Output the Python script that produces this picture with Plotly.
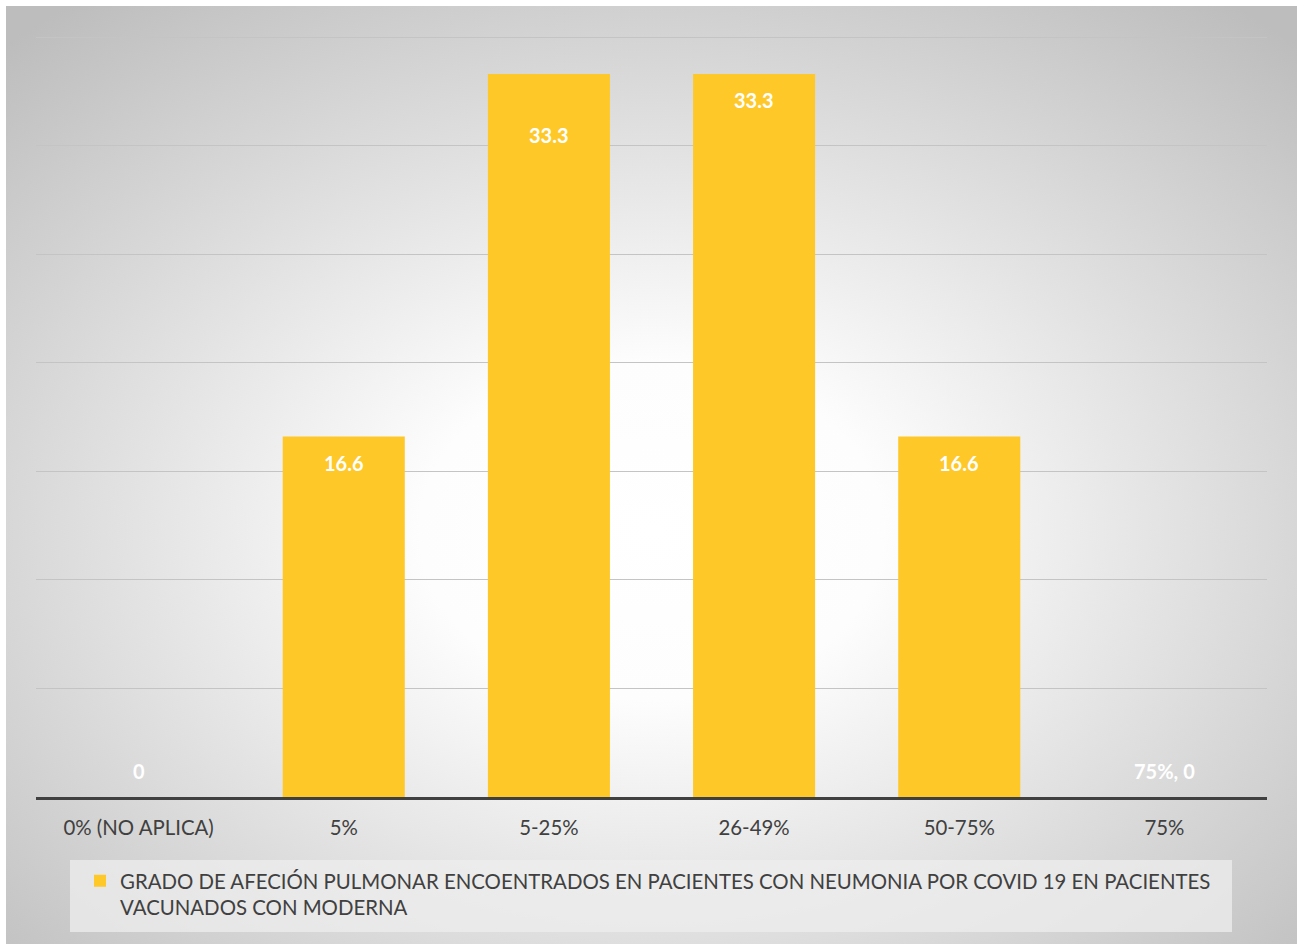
import base64
import plotly.graph_objects as go

categories = ["0% (NO APLICA)", "5%", "5-25%", "26-49%", "50-75%", "75%"]
values = [0, 16.6, 33.3, 33.3, 16.6, 0]
labels = ["0", "16.6", "33.3", "33.3", "16.6", "75%, 0"]
series_name = ("GRADO DE AFECIÓN PULMONAR ENCOENTRADOS EN PACIENTES CON NEUMONIA POR COVID 19 EN PACIENTES"
               "<br>VACUNADOS CON MODERNA")
y_ticks = [0, 5, 10, 15, 20, 25, 30, 35]

W, H = 1303, 944
L, R, T, B = 36, 36, 36, 147
pw, ph = W - L - R, H - T - B

def px_x(px):
    return (px - L) / pw

def px_y(py):
    return (H - B - py) / ph

FONT = "Lato"
TEXT_COLOR = "#404040"
BAR_COLOR = "#FFC829"

svg = """<svg xmlns='http://www.w3.org/2000/svg' width='1291' height='938' viewBox='0 0 1291 938' preserveAspectRatio='none'>
<defs><radialGradient id='g' cx='0.5' cy='0.56' r='0.72' fx='0.5' fy='0.56'>
<stop offset='0' stop-color='#ffffff'/><stop offset='0.25' stop-color='#fdfdfd'/>
<stop offset='1' stop-color='#bdbdbd'/></radialGradient></defs>
<rect x='0' y='0' width='1291' height='938' fill='url(#g)'/></svg>"""
src = "data:image/svg+xml;base64," + base64.b64encode(svg.encode()).decode()

fig = go.Figure()
fig.add_trace(go.Bar(
    x=categories, y=values, name=series_name,
    marker=dict(color=BAR_COLOR, line=dict(width=0)),
    showlegend=True,
))

annotations = []
for i, (c, v, lab) in enumerate(zip(categories, values, labels)):
    if v == 0:
        shift = 26
    else:
        shift = -61 if i == 2 else -26
    annotations.append(dict(
        x=c, y=v, xref="x", yref="y", text="<b>%s</b>" % lab, showarrow=False,
        yshift=shift, yanchor="middle",
        font=dict(family=FONT, size=20, color="white"),
    ))

fig.update_layout(
    width=W, height=H,
    margin=dict(l=L, r=R, t=T, b=B),
    paper_bgcolor="white",
    plot_bgcolor="rgba(0,0,0,0)",
    font=dict(family=FONT, size=20, color=TEXT_COLOR),
    bargap=0.405,
    annotations=annotations,
    images=[dict(
        source=src, xref="paper", yref="paper",
        x=px_x(6), y=px_y(6), sizex=px_x(1297) - px_x(6), sizey=px_y(6) - px_y(944),
        xanchor="left", yanchor="top", sizing="stretch", layer="below",
    )],
    shapes=[dict(
        type="rect", xref="paper", yref="paper",
        x0=px_x(70), x1=px_x(1232), y0=px_y(932), y1=px_y(860),
        fillcolor="rgba(238,238,238,0.75)", line=dict(width=0), layer="below",
    )],
    legend=dict(
        orientation="h", x=px_x(80), y=px_y(861), xanchor="left", yanchor="top",
        bgcolor="rgba(0,0,0,0)", font=dict(family=FONT, size=20.4, color=TEXT_COLOR),
        itemwidth=30, valign="top",
    ),
    xaxis=dict(
        showline=True, linecolor="#404040", linewidth=3, showgrid=False,
        ticks="", ticklabelstandoff=11,
        tickfont=dict(family=FONT, size=20.4, color=TEXT_COLOR),
    ),
    yaxis=dict(
        range=[0, 35.05], tickvals=y_ticks, showticklabels=False, showgrid=True,
        gridcolor="#c4c4c4", gridwidth=1, zeroline=False, showline=False,
    ),
)

fig.write_html("out.html", config={"displayModeBar": False},
               post_script="document.body.style.margin='0px';")
